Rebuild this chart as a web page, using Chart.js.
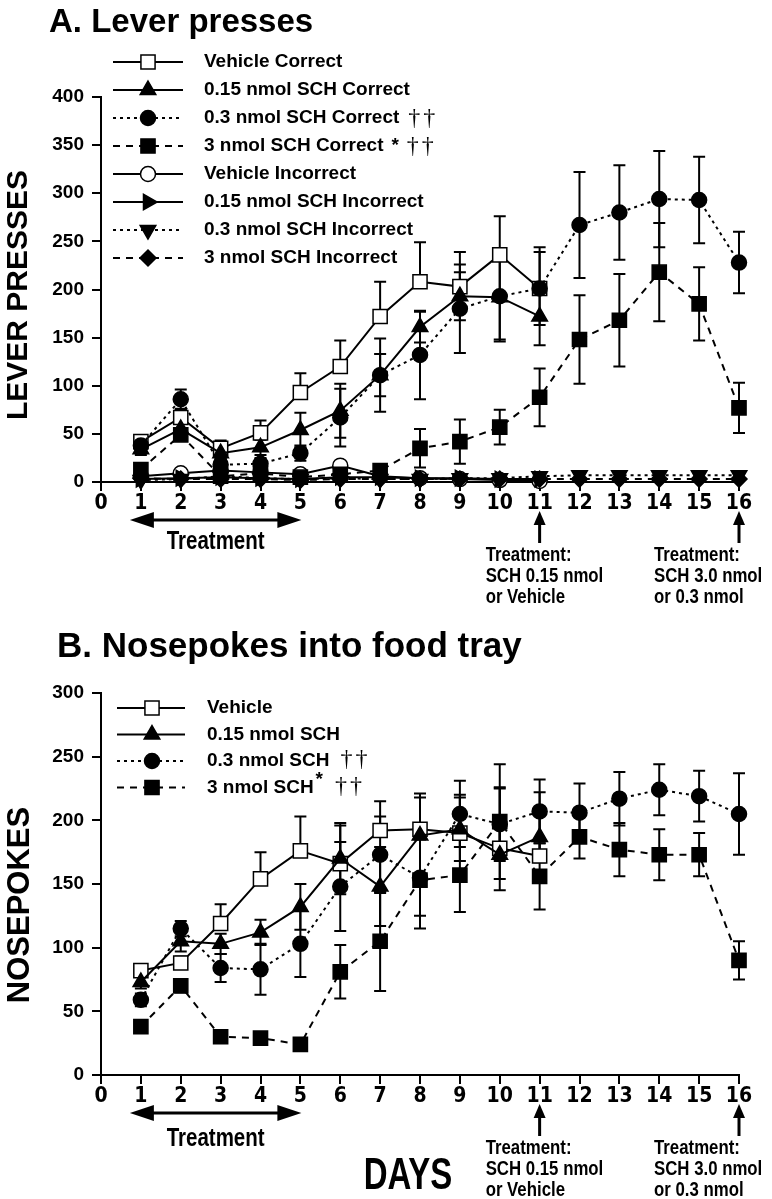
<!DOCTYPE html>
<html>
<head>
<meta charset="utf-8">
<script src="https://cdn.jsdelivr.net/npm/chart.js@4.4.1/dist/chart.umd.min.js"></script>
<style>
  html, body { margin: 0; padding: 0; background: #fff; }
  #wrap { position: relative; width: 772px; height: 1199px; }
  canvas { position: absolute; left: 0; }
  #chartA { top: 0; }
  #chartB { top: 618px; }
</style>
</head>
<body>
<div id="wrap">
  <canvas id="chartA" width="772" height="618"></canvas>
  <canvas id="chartB" width="772" height="581"></canvas>
</div>
<script>
const SANS = "'Liberation Sans', Arial, Helvetica, sans-serif";
const SERIF = "'Liberation Serif', 'DejaVu Serif', serif";
const NARROW = "'Liberation Sans Narrow', 'Arial Narrow', 'DejaVu Sans Condensed', sans-serif";

const days = [1, 2, 3, 4, 5, 6, 7, 8, 9, 10, 11, 12, 13, 14, 15, 16];
const dayTicks = [0, 1, 2, 3, 4, 5, 6, 7, 8, 9, 10, 11, 12, 13, 14, 15, 16];
const leverTicks = [0, 50, 100, 150, 200, 250, 300, 350, 400];
const nosepokeTicks = [0, 50, 100, 150, 200, 250, 300];

// A. lever presses (mean, SEM)
const vehCorrect = [42, 67, 35, 51, 93, 120, 172, 208, 203, 236, 201];
const vehCorrectSem = [5, 8, 8, 13, 20, 27, 36, 41, 36, 40, 43];
const sch015Correct = [34, 55, 30, 36, 54, 74, 111, 161, 193, 192, 172];
const sch015CorrectSem = [6, 8, 6, 8, 18, 28, 38, 16, 25, 44, 30];
const sch03Correct = [38, 86, 18, 19, 30, 67, 111, 132, 180, 193, 201, 267, 280, 294, 293, 228];
const sch03CorrectSem = [5, 10, 6, 6, 8, 30, 22, 46, 46, 47, 38, 55, 49, 50, 45, 32];
const sch3Correct = [13, 49, 6, 9, 5, 8, 12, 35, 42, 57, 88, 148, 168, 218, 185, 77];
const sch3CorrectSem = [4, 6, 3, 3, 2, 3, 4, 20, 23, 18, 30, 46, 48, 51, 38, 26];
const vehIncorrect = [6, 9, 12, 10, 8, 17, 6, 4, 3, 2, 1];
const sch015Incorrect = [3, 4, 5, 4, 3, 5, 5, 4, 4, 3, 3];
const sch03Incorrect = [2, 3, 6, 4, 3, 4, 3, 3, 4, 4, 6, 7, 7, 7, 7, 7];
const sch3Incorrect = [4, 3, 3, 3, 2, 3, 3, 3, 3, 3, 3, 3, 3, 3, 3, 3];

// B. nosepokes into food tray (mean, SEM)
const vehNose = [82, 88, 119, 154, 176, 166, 192, 193, 190, 178, 172];
const vehNoseSem = [4, 5, 15, 21, 27, 30, 23, 28, 30, 47, 50];
const sch015Nose = [73, 105, 103, 112, 132, 170, 148, 188, 193, 173, 187];
const sch015NoseSem = [5, 8, 8, 10, 18, 28, 31, 30, 25, 28, 20];
const sch03Nose = [59, 115, 84, 83, 103, 148, 173, 155, 205, 197, 207, 206, 217, 224, 219, 205];
const sch03NoseSem = [5, 6, 11, 20, 26, 35, 30, 30, 26, 29, 25, 23, 21, 20, 20, 32];
const sch3Nose = [38, 70, 30, 29, 24, 81, 105, 153, 157, 199, 156, 187, 177, 173, 173, 90];
const sch3NoseSem = [4, 5, 0, 0, 0, 21, 39, 38, 29, 45, 26, 17, 21, 20, 17, 15];

// open markers sit underneath the filled ones
const looks = {
  veh:   { pointStyle: 'rect', radius: 10, rotation: 0, fill: '#fff', dash: [], order: 10 },
  s015:  { pointStyle: 'triangle', radius: 9, rotation: 0, fill: '#000', dash: [], order: 0 },
  s03:   { pointStyle: 'circle', radius: 7.5, rotation: 0, fill: '#000', dash: [3, 4], order: 0 },
  s3:    { pointStyle: 'rect', radius: 10, rotation: 0, fill: '#000', dash: [7, 6], order: 0 },
  vehI:  { pointStyle: 'circle', radius: 7.5, rotation: 0, fill: '#fff', dash: [], order: 9 },
  s015I: { pointStyle: 'triangle', radius: 9, rotation: 90, fill: '#000', dash: [], order: 1 },
  s03I:  { pointStyle: 'triangle', radius: 9, rotation: 180, fill: '#000', dash: [3, 4], order: 1 },
  s3I:   { pointStyle: 'rectRot', radius: 8, rotation: 0, fill: '#000', dash: [7, 6], order: 1 }
};

function series(label, values, sem, semDir, look, marks) {
  return {
    label: label,
    data: values.map((v, i) => ({ x: days[i], y: v })),
    sem: sem,
    semDir: semDir,
    marks: marks || {},
    order: look.order,
    borderColor: '#000',
    borderWidth: 2,
    borderDash: look.dash,
    pointStyle: look.pointStyle,
    pointRadius: look.radius,
    pointHoverRadius: look.radius,
    pointRotation: look.rotation,
    pointBackgroundColor: look.fill,
    pointBorderColor: '#000',
    pointBorderWidth: 1.5,
    tension: 0,
    fill: false,
    clip: false
  };
}

// vertical SEM bars with caps
const semBars = {
  id: 'semBars',
  beforeDatasetsDraw(chart) {
    const { ctx, scales: { x, y } } = chart;
    ctx.save();
    ctx.strokeStyle = '#000';
    ctx.lineWidth = 2;
    chart.data.datasets.forEach(ds => {
      if (!ds.sem) return;
      ds.data.forEach((p, i) => {
        const e = ds.sem[i];
        if (!e) return;
        const px = x.getPixelForValue(p.x);
        const py = y.getPixelForValue(p.y);
        const ends = [];
        if (ds.semDir !== 'down') ends.push(y.getPixelForValue(p.y + e));
        if (ds.semDir !== 'up') ends.push(y.getPixelForValue(p.y - e));
        ends.forEach(ey => {
          ctx.beginPath();
          ctx.moveTo(px, py);
          ctx.lineTo(px, ey);
          ctx.moveTo(px - 6, ey);
          ctx.lineTo(px + 6, ey);
          ctx.stroke();
        });
      });
    });
    ctx.restore();
  }
};

function drawMarker(ctx, ds, x, y) {
  ctx.save();
  ctx.fillStyle = ds.pointBackgroundColor;
  ctx.strokeStyle = '#000';
  ctx.lineWidth = ds.pointBorderWidth;
  Chart.helpers.drawPoint(ctx, {
    pointStyle: ds.pointStyle, radius: ds.pointRadius,
    rotation: ds.pointRotation, borderWidth: ds.pointBorderWidth
  }, x, y);
  ctx.restore();
}

function narrowText(ctx, text, x, y, size, sx, align) {
  ctx.save();
  ctx.font = 'bold ' + size + 'px ' + SANS;
  ctx.fillStyle = '#000';
  ctx.textBaseline = 'middle';
  ctx.textAlign = align || 'left';
  ctx.translate(x, y);
  ctx.scale(sx, 1);
  ctx.fillText(text, 0, 0);
  ctx.restore();
}

function arrowHead(ctx, tipX, tipY, dx, dy, len, half) {
  // dx, dy: unit direction pointing toward tip
  const bx = tipX - dx * len, by = tipY - dy * len;
  ctx.beginPath();
  ctx.moveTo(tipX, tipY);
  ctx.lineTo(bx - dy * half, by + dx * half);
  ctx.lineTo(bx + dy * half, by - dx * half);
  ctx.closePath();
  ctx.fill();
}

function decorations(o) {
  return {
    id: 'decor' + o.key,
    afterDraw(chart) {
      const { ctx, chartArea: { bottom }, scales: { x } } = chart;
      ctx.save();
      ctx.fillStyle = '#000';
      ctx.strokeStyle = '#000';

      // panel title
      ctx.font = 'bold ' + o.titleSize + 'px ' + SANS;
      ctx.textBaseline = 'alphabetic';
      ctx.textAlign = 'left';
      ctx.fillText(o.title, o.titleX, o.titleY);

      // y axis title
      ctx.save();
      ctx.translate(o.yTitleX, o.yTitleY);
      ctx.rotate(-Math.PI / 2);
      ctx.font = 'bold ' + o.yTitleSize + 'px ' + SANS;
      ctx.textAlign = 'center';
      ctx.textBaseline = 'middle';
      ctx.fillText(o.yTitle, 0, 0);
      ctx.restore();

      // legend
      const L = o.legend;
      chart.data.datasets.forEach((ds, i) => {
        const ry = L.y0 + i * L.dy;
        ctx.save();
        ctx.lineWidth = 2;
        ctx.setLineDash(ds.borderDash);
        ctx.beginPath();
        ctx.moveTo(L.x0, ry);
        ctx.lineTo(L.x1, ry);
        ctx.stroke();
        ctx.restore();
        drawMarker(ctx, ds, L.xm, ry);
        ctx.font = 'bold ' + L.size + 'px ' + SANS;
        ctx.textAlign = 'left';
        ctx.textBaseline = 'middle';
        ctx.fillText(ds.label, L.xt, ry);
        let ex = L.xt + ctx.measureText(ds.label).width;
        if (ds.marks.star) {
          ctx.fillText('*', ex + L.starGap, ry - L.starRaise);
          ex += L.starGap + ctx.measureText('*').width + L.afterStar;
        } else {
          ex += L.daggerGap;
        }
        if (ds.marks.dagger) {
          ctx.font = L.daggerSize + 'px ' + SERIF;
          ctx.textBaseline = 'alphabetic';
          ctx.fillText('\u2020', ex, ry + L.daggerDrop);
          ctx.fillText('\u2020', ex + 15, ry + L.daggerDrop);
        }
      });

      // treatment notes under the day axis
      const x1 = x.getPixelForValue(1), x5 = x.getPixelForValue(5);
      const ay = bottom + 38;
      ctx.lineWidth = 3;
      ctx.beginPath();
      ctx.moveTo(x1 - 11 + 15, ay);
      ctx.lineTo(x5 + 1 - 15, ay);
      ctx.stroke();
      arrowHead(ctx, x1 - 11, ay, -1, 0, 24, 8);
      arrowHead(ctx, x5 + 1, ay, 1, 0, 24, 8);
      narrowText(ctx, 'Treatment', (x1 + x5) / 2 - 5, bottom + o.treatDy, 25, 0.82, 'center');

      o.notes.forEach(n => {
        const px = x.getPixelForValue(n.day);
        ctx.lineWidth = 3;
        ctx.beginPath();
        ctx.moveTo(px, bottom + 61);
        ctx.lineTo(px, bottom + 38);
        ctx.stroke();
        arrowHead(ctx, px, bottom + 29, 0, -1, 14, 6);
        n.lines.forEach((t, k) => {
          narrowText(ctx, t, px + n.dx, bottom + 73 + k * 21, 21, 0.8, 'left');
        });
      });

      if (o.xTitle) {
        narrowText(ctx, o.xTitle, o.xTitleX, o.xTitleY, 44, 0.75, 'center');
      }
      ctx.restore();
    }
  };
}

const notes = [
  { day: 11, dx: -54, lines: ['Treatment:', 'SCH 0.15 nmol', 'or Vehicle'] },
  { day: 16, dx: -85, lines: ['Treatment:', 'SCH 3.0 nmol', 'or 0.3 nmol'] }
];

function axes(yMax, yTicks, bottomH) {
  return {
    x: {
      type: 'linear', min: 0, max: 16,
      afterBuildTicks: s => { s.ticks = dayTicks.map(v => ({ value: v })); },
      afterFit: s => { s.height = bottomH; },
      ticks: { autoSkip: false, maxRotation: 0, color: '#000', padding: 0,
               font: { family: NARROW, size: 21, weight: 'bold' } },
      grid: { drawOnChartArea: false, drawTicks: true, tickLength: 9, color: '#000', lineWidth: 2 },
      border: { display: true, color: '#000', width: 2 }
    },
    y: {
      min: 0, max: yMax,
      afterBuildTicks: s => { s.ticks = yTicks.map(v => ({ value: v })); },
      afterFit: s => { s.width = 101; },
      ticks: { color: '#000', padding: 8, font: { family: SANS, size: 19, weight: 'bold' } },
      grid: { drawOnChartArea: false, drawTicks: true, tickLength: 9, color: '#000', lineWidth: 2 },
      border: { display: true, color: '#000', width: 2 }
    }
  };
}

const baseOpts = {
  responsive: false,
  animation: false,
  events: [],
  plugins: { legend: { display: false }, tooltip: { enabled: false }, title: { display: false } }
};

new Chart(document.getElementById('chartA'), {
  type: 'line',
  data: {
    datasets: [
      series('Vehicle Correct', vehCorrect, vehCorrectSem, 'up', looks.veh),
      series('0.15 nmol SCH Correct', sch015Correct, sch015CorrectSem, 'both', looks.s015),
      series('0.3 nmol SCH Correct', sch03Correct, sch03CorrectSem, 'both', looks.s03, { dagger: true }),
      series('3 nmol SCH Correct', sch3Correct, sch3CorrectSem, 'both', looks.s3, { star: true, dagger: true }),
      series('Vehicle Incorrect', vehIncorrect, null, 'both', looks.vehI),
      series('0.15 nmol SCH Incorrect', sch015Incorrect, null, 'both', looks.s015I),
      series('0.3 nmol SCH Incorrect', sch03Incorrect, null, 'both', looks.s03I),
      series('3 nmol SCH Incorrect', sch3Incorrect, null, 'both', looks.s3I)
    ]
  },
  options: Object.assign({}, baseOpts, {
    layout: { padding: { top: 97, right: 33, left: 0, bottom: 0 } },
    scales: axes(400, leverTicks, 618 - 482)
  }),
  plugins: [semBars, decorations({
    key: 'A', title: 'A. Lever presses', titleSize: 33, titleX: 49, titleY: 32,
    yTitle: 'LEVER PRESSES', yTitleSize: 30, yTitleX: 19, yTitleY: 295,
    legend: { x0: 113, x1: 183, xm: 148, xt: 204, y0: 62, dy: 28, size: 19,
              starGap: 8, starRaise: 0, afterStar: 8, daggerGap: 9, daggerSize: 24, daggerDrop: 7 },
    treatDy: 60, notes: notes
  })]
});

new Chart(document.getElementById('chartB'), {
  type: 'line',
  data: {
    datasets: [
      series('Vehicle', vehNose, vehNoseSem, 'up', looks.veh),
      series('0.15 nmol SCH', sch015Nose, sch015NoseSem, 'both', looks.s015),
      series('0.3 nmol SCH', sch03Nose, sch03NoseSem, 'both', looks.s03, { dagger: true }),
      series('3 nmol SCH', sch3Nose, sch3NoseSem, 'both', looks.s3, { star: true, dagger: true })
    ]
  },
  options: Object.assign({}, baseOpts, {
    layout: { padding: { top: 75, right: 33, left: 0, bottom: 0 } },
    scales: axes(300, nosepokeTicks, 581 - 457)
  }),
  plugins: [semBars, decorations({
    key: 'B', title: 'B. Nosepokes into food tray', titleSize: 35, titleX: 57, titleY: 39,
    yTitle: 'NOSEPOKES', yTitleSize: 31, yTitleX: 20, yTitleY: 287,
    legend: { x0: 117, x1: 185, xm: 152, xt: 207, y0: 90, dy: 26.5, size: 19,
              starGap: 2, starRaise: 8, afterStar: 12, daggerGap: 11, daggerSize: 24, daggerDrop: 5 },
    treatDy: 64, notes: notes,
    xTitle: 'DAYS', xTitleX: 408, xTitleY: 559
  })]
});
</script>
</body>
</html>
